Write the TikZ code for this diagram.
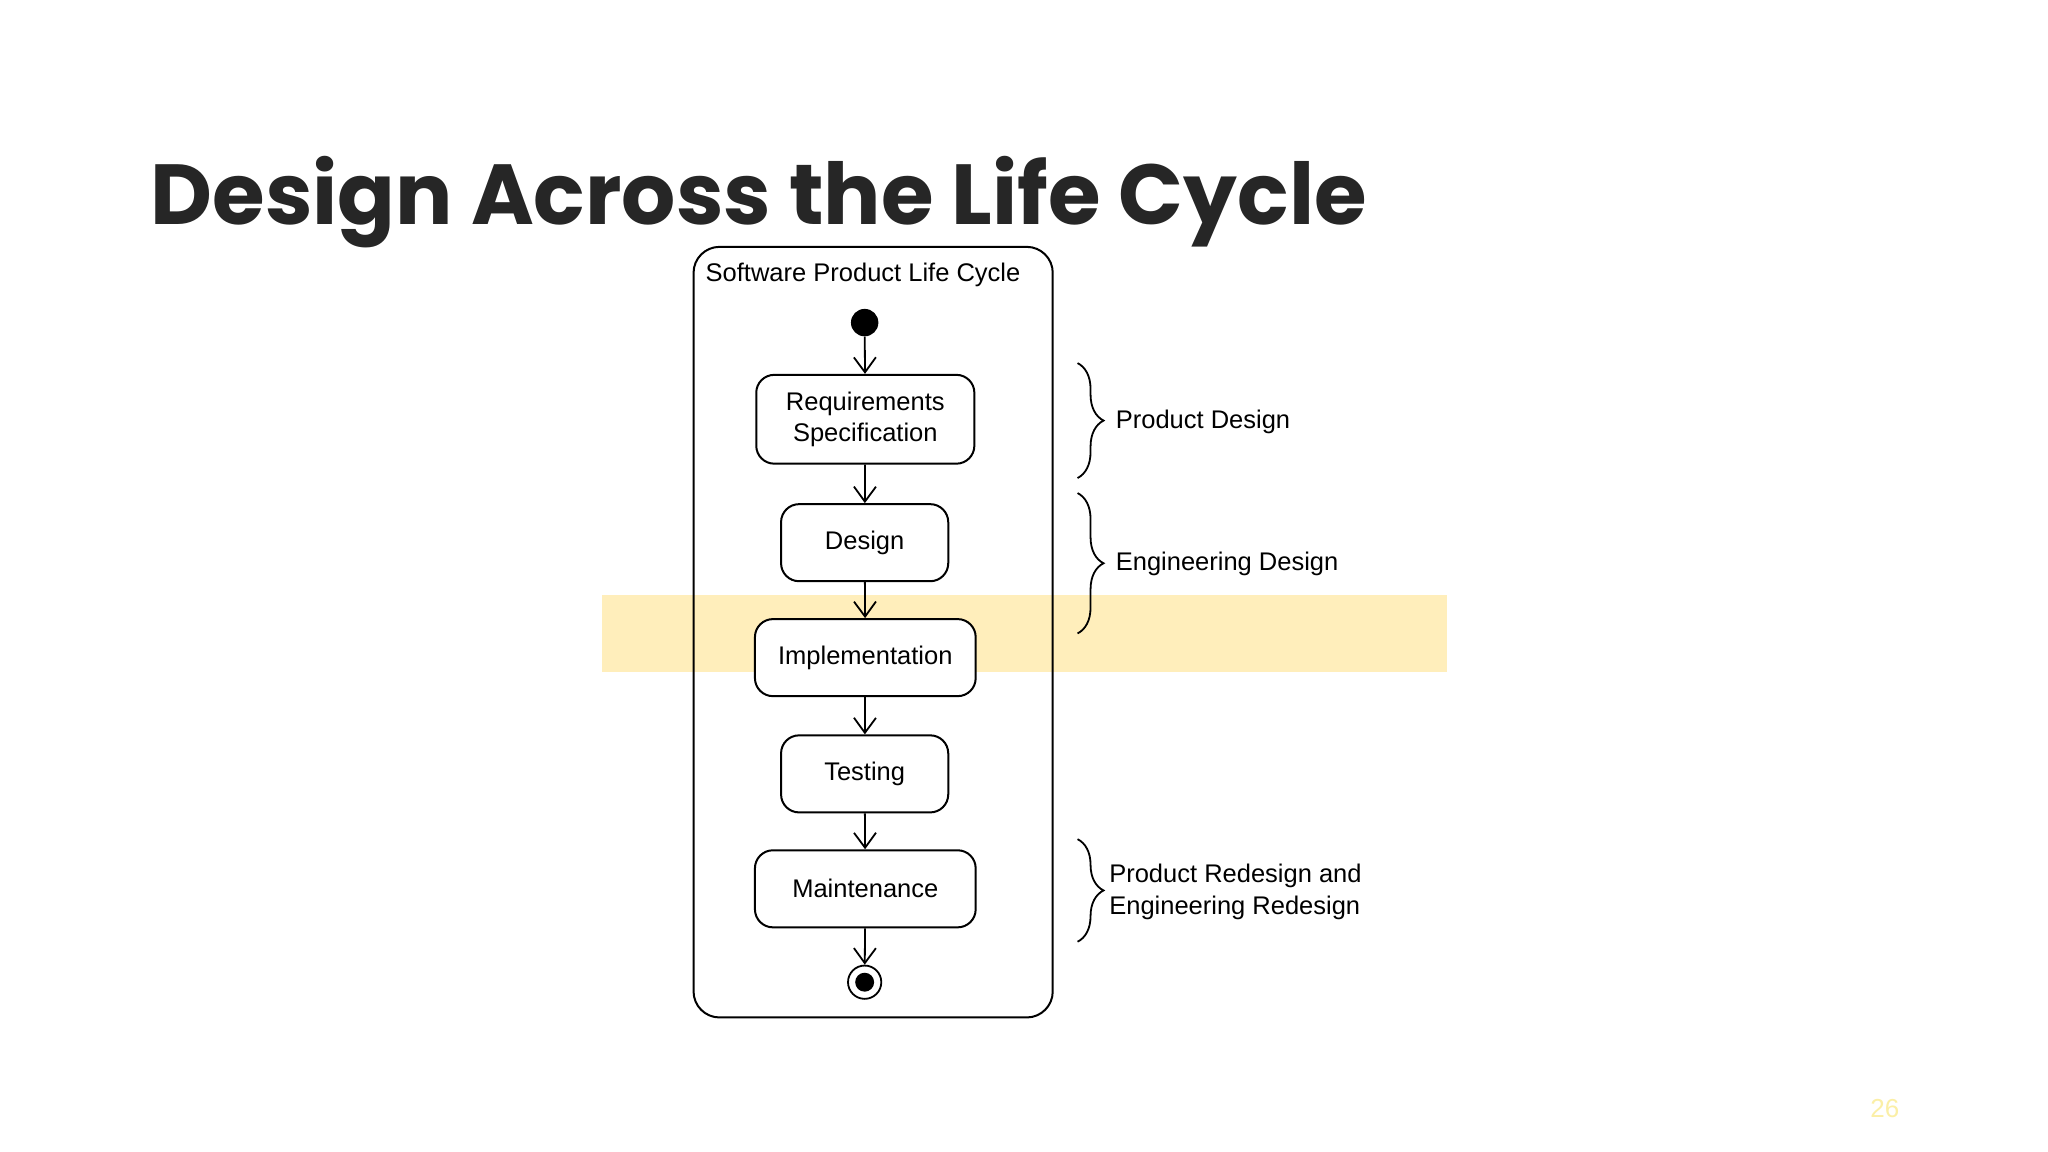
\documentclass[tikz,border=0pt]{standalone}
\usepackage{fontspec}
\setmainfont{Liberation Sans}
\newfontfamily\titlefont{Poppins}[UprightFont=* Bold]
\usetikzlibrary{arrows.meta,decorations.pathreplacing,positioning}
\definecolor{titlegray}{HTML}{262626}
\definecolor{bandyellow}{HTML}{FFEEBB}
\definecolor{pagenum}{HTML}{FBEFA6}
\tikzset{
  txt/.style={font=\fontsize{12.75}{15.7}\selectfont, text=black, inner sep=0pt},
  activity/.style={draw, line width=1pt, rounded corners=9pt, fill=white, align=center,
    font=\fontsize{12.75}{15.7}\selectfont, inner sep=0pt},
  flow/.style={draw, line width=0.9pt, -{Straight Barb[length=7.5pt,width=11pt,line width=0.9pt]}},
  bracestyle/.style={draw, line width=0.9pt, decorate, decoration={brace, amplitude=13pt}},
}
\begin{document}
\begin{tikzpicture}[x=0.653pt, y=-0.653pt]
\useasboundingbox (0,0) rectangle (1568,882);
\fill[white] (0,0) rectangle (1568,882);
% highlight band
\fill[bandyellow] (461,455.5) rectangle (1108,514.5);
% title
\node[anchor=base west, inner sep=0pt, text=titlegray, font=\titlefont\fontsize{42.6}{50}\selectfont] (title) at (115,172) {Design Across the Life Cycle};
% frame
\draw[line width=1pt, rounded corners=13pt] (531,189) rectangle (806,779);
\node[txt, anchor=west] (frametitle) at (540,210.5) {Software Product Life Cycle};
% initial and final
\node[circle, fill=black, minimum size=21*0.653pt, inner sep=0pt] (start) at (662,247) {};
\node[circle, draw, line width=0.9pt, fill=white, minimum size=25.5*0.653pt, inner sep=0pt] (final) at (662,752) {};
\node[circle, fill=black, minimum size=14.5*0.653pt, inner sep=0pt] (finaldot) at (662,752) {};
% activities
\node[activity, minimum width=167*0.653pt, minimum height=68*0.653pt] (req) at (662.5,321) {Requirements\\Specification};
\node[activity, minimum width=128*0.653pt, minimum height=59*0.653pt] (design) at (662,415.5) {Design};
\node[activity, minimum width=169*0.653pt, minimum height=59*0.653pt] (impl) at (662.5,503.5) {Implementation};
\node[activity, minimum width=128*0.653pt, minimum height=59*0.653pt] (test) at (662,592.5) {Testing};
\node[activity, minimum width=169*0.653pt, minimum height=59*0.653pt] (maint) at (662.5,680.5) {Maintenance};
% flows
\draw[flow] (start) -- (req);
\draw[flow] (req) -- (design);
\draw[flow] (design) -- (impl);
\draw[flow] (impl) -- (test);
\draw[flow] (test) -- (maint);
\draw[flow] (maint) -- (final);
% braces
\coordinate (b1t) at (825,278);
\coordinate (b1b) at (825,366);
\coordinate (b2t) at (825,377.5);
\coordinate (b2b) at (825,485);
\coordinate (b3t) at (825,642.5);
\coordinate (b3b) at (825,721);
\draw[bracestyle] (b1t) -- (b1b);
\draw[bracestyle] (b2t) -- (b2b);
\draw[bracestyle] (b3t) -- (b3b);
\node[txt, anchor=west] (pd) at (854,323) {Product Design};
\node[txt, anchor=west] (ed) at (854,431.5) {Engineering Design};
\node[txt, anchor=west, align=left] (rd) at (849,683) {Product Redesign and\\Engineering Redesign};
% page number
\node[inner sep=0pt, text=pagenum, font=\fontsize{13}{15}\selectfont] (page) at (1443,849) {26};
\end{tikzpicture}
\end{document}
